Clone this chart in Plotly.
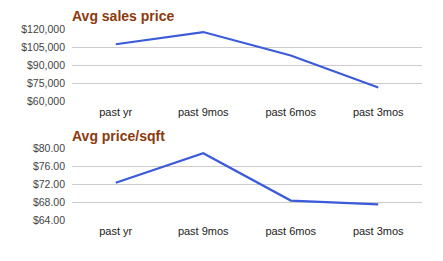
import plotly.graph_objects as go

categories = ["past yr", "past 9mos", "past 6mos", "past 3mos"]
sales_price = [107300, 117400, 98000, 71500]
price_sqft = [72.3, 78.87, 68.32, 67.47]
sales_ticks = [60000, 75000, 90000, 105000, 120000]
sqft_ticks = [64, 68, 72, 76, 80]

W, H = 443, 261
def py(px):
    return 1 - px / H

LINE = "#3B5BD9"
TITLE = "#8B3A0E"
TXT = "#444444"
FONT = "Arial, Liberation Sans, sans-serif"

fig = go.Figure()
fig.add_trace(go.Scatter(x=categories, y=sales_price, mode="lines",
                         line=dict(color=LINE, width=2.2), xaxis="x", yaxis="y"))
fig.add_trace(go.Scatter(x=categories, y=price_sqft, mode="lines",
                         line=dict(color=LINE, width=2.2), xaxis="x2", yaxis="y2"))

xdom = [72 / W, 422 / W]
common_x = dict(domain=xdom, range=[-0.5, 3.5], showgrid=False, showline=False,
                zeroline=False, ticks="", tickfont=dict(family=FONT, size=11, color="#222"),
                type="category", ticklabelstandoff=3)
common_y = dict(showgrid=True, gridcolor="#cccccc", gridwidth=1, zeroline=False,
                showline=False, ticks="", tickfont=dict(family=FONT, size=10.5, color=TXT),
                ticklabelstandoff=6)

fig.update_layout(
    width=W, height=H, margin=dict(l=0, r=0, t=0, b=0),
    paper_bgcolor="white", plot_bgcolor="white", showlegend=False,
    xaxis=dict(**common_x, anchor="y"),
    xaxis2=dict(**common_x, anchor="y2"),
    yaxis=dict(**common_y, domain=[py(100), py(24)], range=[60000, 120000],
               tickvals=sales_ticks, ticktext=[f"${v:,}" for v in sales_ticks], anchor="x"),
    yaxis2=dict(**common_y, domain=[py(224.3), py(149)], range=[64, 80],
                tickvals=sqft_ticks, ticktext=[f"${v:.2f}" for v in sqft_ticks], anchor="x2"),
    annotations=[
        dict(text="<b>Avg sales price</b>", x=70 / W, y=py(10.5), xref="paper", yref="paper",
             xanchor="left", yanchor="middle", showarrow=False,
             font=dict(family=FONT, size=14, color=TITLE)),
        dict(text="<b>Avg price/sqft</b>", x=70 / W, y=py(136.5), xref="paper", yref="paper",
             xanchor="left", yanchor="middle", showarrow=False,
             font=dict(family=FONT, size=14, color=TITLE)),
    ],
)

fig.write_html("out.html")
